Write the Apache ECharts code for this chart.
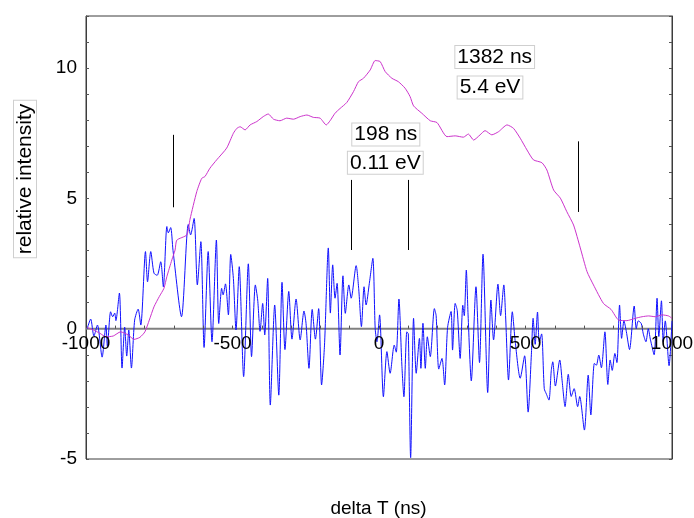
<!DOCTYPE html>
<html><head><meta charset="utf-8">
<script src="https://cdn.jsdelivr.net/npm/echarts@6/dist/echarts.min.js"></script>
<style>html,body{margin:0;padding:0;background:#fff}#c{width:694px;height:518px}</style>
</head><body><div id="c"></div>
<script>
// ---- data ----
const blueSignal = [[-996,0.0],[-984,0.37],[-973,-0.28],[-961,0.14],[-945,-1.09],[-932,0.14],[-927,-0.69],[-916,0.65],[-909,0.46],[-902,0.6],[-898,0.31],[-886,1.37],[-877,-1.51],[-868,0.06],[-861,-1.05],[-854,-0.05],[-845,-1.51],[-834,0.33],[-822,0.75],[-813,0.14],[-797,2.96],[-790,1.8],[-779,2.96],[-768,2.13],[-757,2.05],[-745,2.57],[-736,1.61],[-724,3.92],[-719,3.68],[-711,3.88],[-703,3.0],[-674,0.46],[-651,4.0],[-643,3.6],[-631,4.23],[-620,1.68],[-608,3.34],[-597,-0.72],[-583,2.96],[-570,-0.5],[-555,3.4],[-547,0.2],[-537,1.55],[-532,1.3],[-524,1.72],[-514,0.53],[-506,2.85],[-497,1.93],[-488,-0.05],[-477,2.38],[-462,-1.84],[-446,2.49],[-435,-1.07],[-422,1.68],[-414,1.1],[-406,-0.1],[-397,0.97],[-390,-0.24],[-380,1.93],[-371,-2.93],[-356,0.91],[-342,-2.55],[-331,1.78],[-321,-0.8],[-308,1.43],[-297,-0.4],[-283,1.14],[-269,-0.43],[-256,0.68],[-249,0.2],[-239,-1.52],[-228,0.74],[-217,-0.4],[-206,0.77],[-196,-2.16],[-186,-0.63],[-173,3.1],[-166,0.6],[-158,2.45],[-150,1.17],[-143,1.74],[-133,-1.01],[-123,2.03],[-115,0.59],[-103,1.68],[-95,1.17],[-78,2.42],[-69,1.49],[-60,0.08],[-51,1.61],[-44,0.91],[-33,1.74],[-21,2.7],[-13,0.0],[-7,-0.5],[2,0.53],[15,-2.61],[27,-0.88],[38,-1.71],[52,-0.63],[59,-0.9],[68,1.14],[78,-1.39],[85,-2.61],[95,-0.12],[100,-0.2],[108,-4.95],[118,0.4],[127,-1.71],[138,-0.37],[143,-1.52],[150,0.21],[158,-1.52],[165,-0.31],[175,-1.07],[189,0.77],[195,0.5],[204,-1.55],[215,-1.14],[224,-2.16],[234,0.04],[246,0.66],[251,-0.82],[260,0.97],[267,0.7],[277,-1.14],[286,0.9],[291,0.5],[298,2.25],[304,0.53],[315,-2.0],[331,1.61],[343,-1.3],[355,2.86],[371,-2.45],[382,1.1],[391,-0.43],[406,1.71],[415,0.5],[426,1.68],[432,0.5],[442,-1.97],[455,0.65],[465,-0.5],[482,-1.9],[497,-1.04],[509,-3.2],[520,-1.0],[526,0.4],[533,-0.6],[541,0.64],[547,-0.5],[555,-0.2],[564,-2.3],[571,-2.5],[580,-2.74],[588,-1.6],[593,-1.27],[602,-2.2],[617,-1.2],[625,-2.0],[635,-2.99],[646,-1.75],[656,-2.6],[666,-2.3],[678,-2.99],[685,-2.6],[701,-3.89],[714,-1.78],[723,-3.31],[735,-1.33],[742,-1.4],[750,-1.01],[759,-1.5],[771,-0.12],[781,-2.14],[789,-1.2],[796,-1.6],[805,-0.95],[812,-1.3],[821,0.91],[828,-0.37],[836,0.3],[844,-0.1],[855,-0.8],[871,0.87],[878,0.0],[885,0.3],[895,0.2],[902,-0.2],[911,-0.5],[919,0.0],[926,-0.4],[939,-1.0],[949,1.17],[955,-0.3],[964,1.07],[970,-0.5],[977,0.3],[990,-1.42],[1000,0.3]];

const magentaProfile = [[-996,0.05],[-975,-0.05],[-952,-0.18],[-932,-0.31],[-907,-0.28],[-882,-0.12],[-856,-0.24],[-836,-0.41],[-816,-0.33],[-799,-0.12],[-784,0.33],[-768,0.84],[-750,1.23],[-734,1.55],[-724,2.0],[-707,2.64],[-696,3.02],[-690,3.4],[-656,3.6],[-645,4.2],[-622,5.26],[-605,5.77],[-594,5.84],[-577,6.16],[-554,6.48],[-520,6.93],[-497,7.5],[-485,7.69],[-474,7.75],[-457,7.63],[-440,7.82],[-417,7.95],[-395,8.14],[-378,8.24],[-360,8.04],[-338,7.98],[-315,8.08],[-292,8.04],[-269,8.14],[-246,8.2],[-224,8.11],[-201,8.08],[-180,7.82],[-167,7.98],[-150,8.27],[-133,8.45],[-110,8.68],[-87,9.1],[-70,9.48],[-53,9.61],[-30,9.93],[-13,10.29],[4,10.25],[21,9.87],[44,9.61],[66,9.48],[89,9.23],[106,8.91],[118,8.55],[146,8.27],[175,7.98],[198,7.91],[232,7.37],[260,7.4],[288,7.35],[305,7.47],[323,7.24],[345,7.44],[362,7.6],[385,7.44],[408,7.56],[437,7.82],[459,7.69],[482,7.31],[505,6.86],[527,6.48],[556,6.37],[573,6.09],[596,5.32],[619,5.01],[641,4.49],[664,3.98],[687,3.1],[710,2.19],[732,1.68],[766,0.97],[792,0.74],[818,0.33],[846,0.31],[875,0.4],[898,0.46],[920,0.49],[943,0.46],[966,0.53],[988,0.49],[1000,0.4]];

const markerX    = [-701, -96, 99, 681];
const markerLow  = [4.66, 3.02, 3.02, 4.48];
const markerHigh = [7.44, 5.71, 5.71, 7.19];

const xTickLabels = [-1000, -500, 0, 500, 1000];
const xTickValues = [-900, -800, -700, -600, -500, -400, -300, -200, -100, 0, 100, 200, 300, 400, 500, 600, 700, 800, 900];
const yTickLabels = [-5, 0, 5, 10];
const annotationTexts = ['1382 ns', '5.4 eV', '198 ns', '0.11 eV'];
const xAxisTitle = 'delta T (ns)';
const yAxisTitle = 'relative intensity';

// ---- chart ----
const FONT = '"Liberation Sans", Arial, sans-serif';
const GRID = {left: 86, top: 16, right: 22, bottom: 59};
const X_MIN = -1000, X_MAX = 1000;
const Y_MIN = -5, Y_MAX = 12;
const TICK_LEN = 0.12; // in y units (about 3 px)

const chart = echarts.init(document.getElementById('c'), null, {renderer: 'canvas'});

const annPos = [[494.7, 57], [490, 87.5], [385.8, 134.5], [385.3, 162.8]];
const boxStyle = {backgroundColor: '#fff', borderColor: '#cfcfcf', borderWidth: 1};

const graphics = annotationTexts.map((t, i) => ({
  type: 'text', x: annPos[i][0], y: annPos[i][1], z: 100,
  style: Object.assign({text: t, font: '21px ' + FONT, fill: '#000',
    align: 'center', verticalAlign: 'middle', padding: [1, 2, 0, 2]}, boxStyle)
}));
graphics.push({
  type: 'text', x: 25, y: 179, rotation: Math.PI / 2, z: 100,
  style: Object.assign({text: yAxisTitle, font: '21px ' + FONT, fill: '#000',
    align: 'center', verticalAlign: 'middle', padding: [1, 3, 0, 3]}, boxStyle)
});
graphics.push({
  type: 'text', x: 378.5, y: 509, z: 100,
  style: {text: xAxisTitle, font: '19px ' + FONT, fill: '#000', align: 'center', verticalAlign: 'middle'}
});

const yAxisCommon = {
  type: 'value', min: Y_MIN, max: Y_MAX, interval: 1,
  axisLine: {show: true, onZero: false, lineStyle: {color: '#3c3c3c', width: 1}},
  axisTick: {show: true, inside: true, length: 3, lineStyle: {color: '#555'}},
  splitLine: {show: false}
};

chart.setOption({
  animation: false,
  backgroundColor: '#fff',
  grid: Object.assign({show: true, borderColor: '#3c3c3c', borderWidth: 1, backgroundColor: 'transparent'}, GRID),
  xAxis: {
    type: 'value', min: X_MIN, max: X_MAX, interval: 500,
    axisLine: {show: false, onZero: false},
    axisTick: {show: false}, minorTick: {show: false},
    splitLine: {show: false}, minorSplitLine: {show: false},
    axisLabel: {show: false}
  },
  yAxis: [
    Object.assign({}, yAxisCommon, {
      position: 'left',
      axisLabel: {color: '#000', fontSize: 19, fontFamily: FONT, margin: 9,
        formatter: v => yTickLabels.indexOf(v) >= 0 ? String(v) : ''}
    }),
    Object.assign({}, yAxisCommon, {position: 'right', axisLabel: {show: false}})
  ],
  graphic: graphics,
  series: [
    { // the x axis on y = 0: gray baseline with small upward ticks
      type: 'line', data: [[X_MIN, 0], [X_MAX, 0]], showSymbol: false, silent: true, z: 2,
      lineStyle: {color: '#808080', width: 2},
      markLine: {
        silent: true, symbol: 'none', label: {show: false},
        lineStyle: {color: '#555', width: 1, type: 'solid'},
        data: xTickValues.map(v => [{coord: [v, 0]}, {coord: [v, TICK_LEN]}])
      }
    },
    {
      type: 'line', data: blueSignal, showSymbol: false, smooth: 0.25,
      lineStyle: {color: '#1010ff', width: 1}, z: 3,
      markLine: {
        silent: true, symbol: 'none', label: {show: false},
        lineStyle: {color: '#000', width: 1, type: 'solid'},
        data: markerX.map((x, i) => [{coord: [x, markerLow[i]]}, {coord: [x, markerHigh[i]]}])
      }
    },
    {
      type: 'line', data: magentaProfile, showSymbol: false, smooth: 0.2,
      lineStyle: {color: '#cc33cc', width: 1}, z: 4
    }
  ]
});

// x tick labels under the y = 0 line, placed through the chart's own scales
const toPx = v => chart.convertToPixel({xAxisIndex: 0, yAxisIndex: 0}, [v, 0]);
const tickLabelGraphics = xTickLabels.map(v => {
  const p = toPx(v);
  return {
    type: 'text', x: p[0], y: p[1] + 6, z: 50, silent: true,
    style: {text: String(v), font: '19px ' + FONT, fill: '#000', align: 'center', verticalAlign: 'top'}
  };
});
chart.setOption({graphic: graphics.concat(tickLabelGraphics)});
</script>
</body></html>
